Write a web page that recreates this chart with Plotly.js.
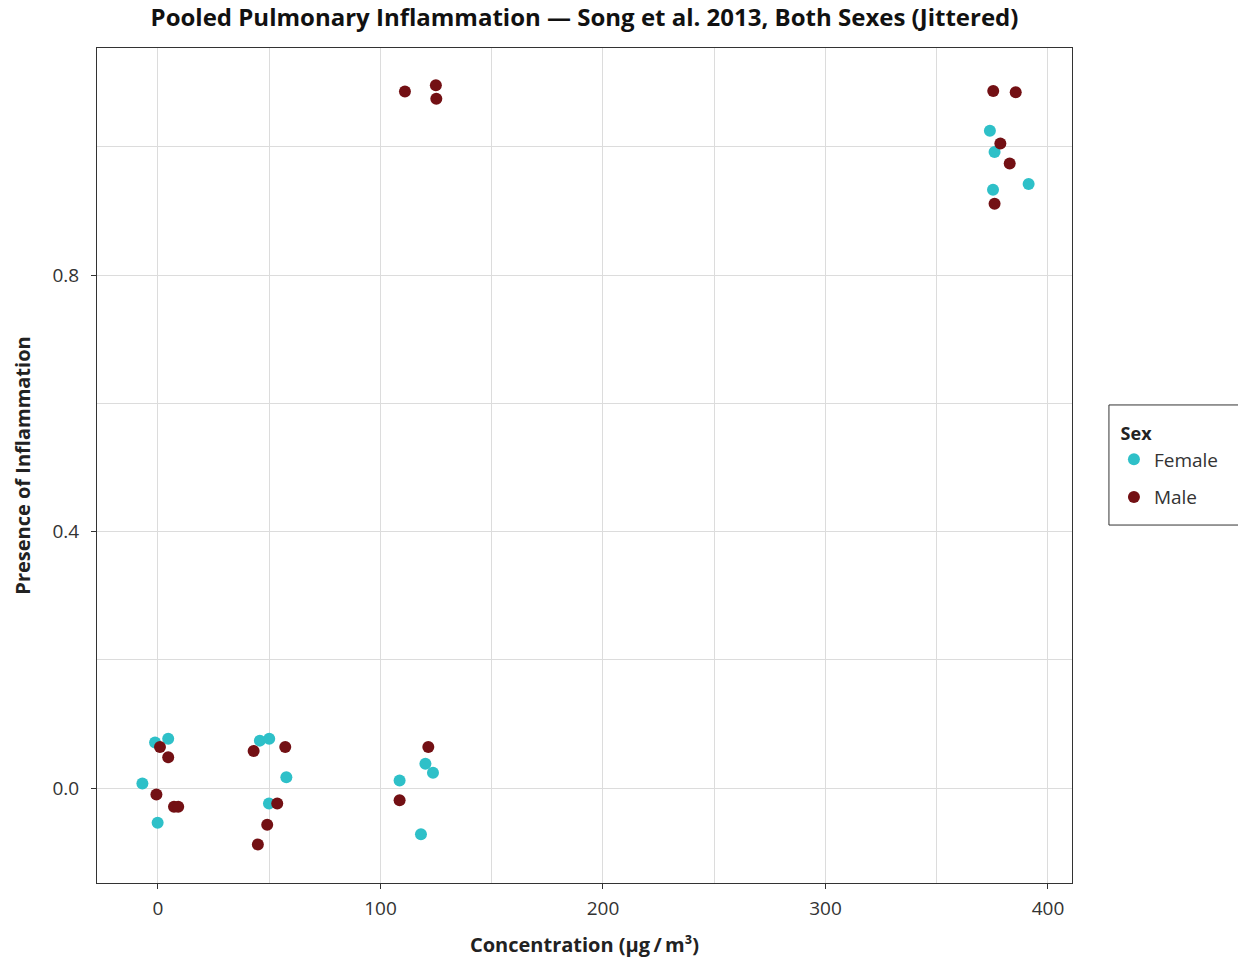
<!DOCTYPE html>
<html>
<head>
<meta charset="utf-8">
<script src="https://cdn.plot.ly/plotly-3.0.1.min.js"></script>
<style>html,body{margin:0;padding:0;background:#fff;}#chart{width:1238px;height:963px;}</style>
</head>
<body>
<div id="chart"></div>
<script>
// Female (jittered) points
const femaleX = [-1.3, 4.6, -7.0, -0.15, 45.8, 50.0, 57.7, 49.9, 108.6, 120.2, 123.6, 118.2, 373.9, 376.0, 391.3, 375.3];
const femaleY = [0.071, 0.077, 0.007, -0.054, 0.074, 0.077, 0.017, -0.024, 0.012, 0.038, 0.024, -0.072, 1.025, 0.992, 0.942, 0.933];
// Male (jittered) points
const maleX = [0.9, 4.6, -0.7, 7.2, 9.1, 43.0, 57.2, 53.6, 49.1, 44.9, 121.5, 108.6, 111.0, 124.9, 125.1, 375.4, 385.5, 378.6, 382.8, 376.0];
const maleY = [0.064, 0.048, -0.010, -0.029, -0.029, 0.058, 0.064, -0.024, -0.057, -0.088, 0.064, -0.019, 1.086, 1.096, 1.075, 1.087, 1.085, 1.005, 0.974, 0.911];
const xTicks = [0, 100, 200, 300, 400];
const yTicks = [0.0, 0.4, 0.8];

const FONT = '"Open Sans", "Liberation Sans", sans-serif';
const traces = [
  {x: femaleX, y: femaleY, name: 'Female', type: 'scatter', mode: 'markers', legendgroup: 'f',
   marker: {color: '#2ec0c8', size: 12}},
  {x: maleX, y: maleY, name: 'Male', type: 'scatter', mode: 'markers', legendgroup: 'm',
   marker: {color: '#731014', size: 12}}
];
const layout = {
  width: 1238, height: 963,
  margin: {l: 97, r: 166, t: 48, b: 80},
  paper_bgcolor: '#fff', plot_bgcolor: '#fff',
  font: {family: FONT, color: '#222', size: 17},
  title: {text: 'Pooled Pulmonary Inflammation — Song et al. 2013, Both Sexes (Jittered)',
          font: {family: FONT, size: 24, color: '#111', weight: 'bold'},
          x: 0.5, xref: 'paper', xanchor: 'center', y: 0.982, yref: 'container', yanchor: 'middle'},
  xaxis: {
    range: [-27.4, 410.8], tickvals: xTicks, ticktext: xTicks.map(String),
    ticks: 'outside', ticklen: 5, tickcolor: '#333', tickwidth: 1,
    showline: true, linecolor: '#333', linewidth: 1, mirror: true,
    showgrid: true, gridcolor: '#dcdcdc', gridwidth: 1, zeroline: false,
    minor: {dtick: 50, tick0: 0, showgrid: true, gridcolor: '#dcdcdc', gridwidth: 1, ticks: ''},
    tickfont: {size: 19, color: '#333'}, ticklabelstandoff: 3,
    title: {text: 'Concentration (µg\u2009/\u2009m³)', font: {size: 20, weight: 'bold', color: '#222'}, standoff: 18}
  },
  yaxis: {
    range: [-0.148, 1.154], tickvals: yTicks, ticktext: yTicks.map(v => v.toFixed(1)),
    ticks: 'outside', ticklen: 5, tickcolor: '#333', tickwidth: 1,
    showline: true, linecolor: '#333', linewidth: 1, mirror: true,
    showgrid: true, gridcolor: '#dcdcdc', gridwidth: 1, zeroline: false,
    minor: {dtick: 0.2, tick0: 0, showgrid: true, gridcolor: '#dcdcdc', gridwidth: 1, ticks: ''},
    tickfont: {size: 19, color: '#333'}, ticklabelstandoff: 8,
    title: {text: 'Presence of Inflammation', font: {size: 20, weight: 'bold', color: '#222'}, standoff: 16}
  },
  shapes: [{type: 'rect', xref: 'paper', yref: 'paper', x0: 1.0379, x1: 1.25, y0: 0.4287, y1: 0.5725,
            line: {color: '#333', width: 1}, fillcolor: 'rgba(0,0,0,0)', layer: 'above'}],
  showlegend: true,
  legend: {
    x: 1.043, xanchor: 'left', y: 0.558, yanchor: 'top',
    borderwidth: 0, bgcolor: 'rgba(0,0,0,0)',
    title: {text: ' Sex', font: {size: 18, weight: 'bold', color: '#222'}},
    font: {size: 19, color: '#333'}, itemsizing: 'constant',
    traceorder: 'grouped', tracegroupgap: 10
  }
};
Plotly.newPlot('chart', traces, layout, {displayModeBar: false, staticPlot: true});
</script>
</body>
</html>
